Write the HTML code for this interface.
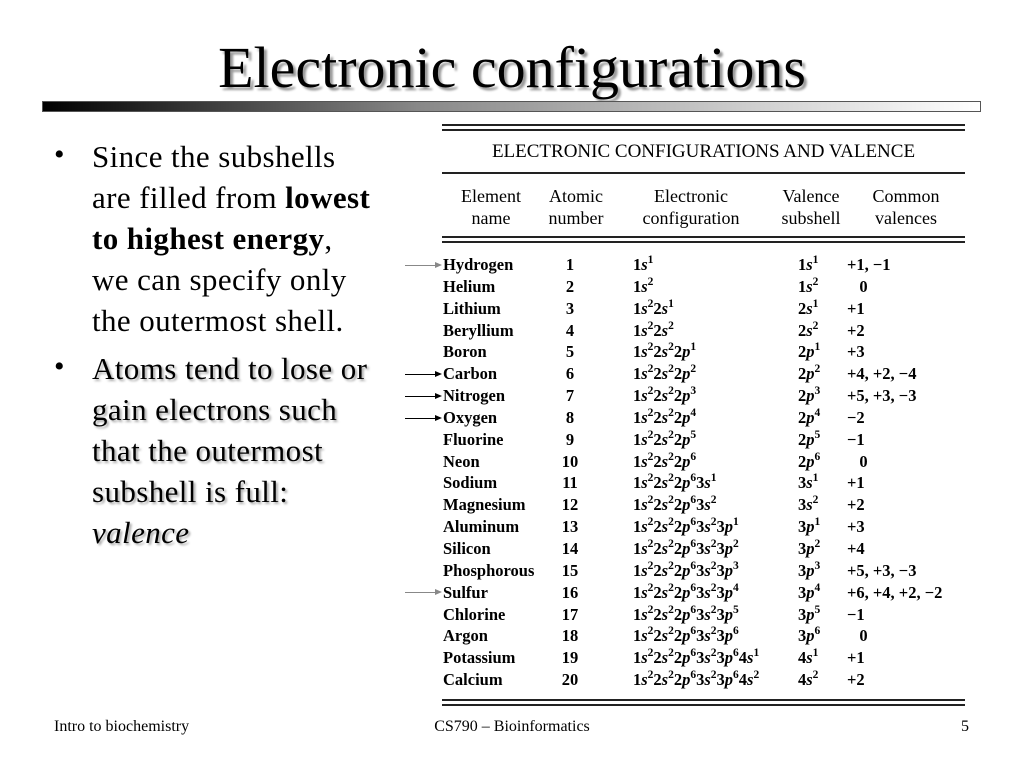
<!DOCTYPE html>
<html><head><meta charset="utf-8"><style>
body{margin:0;width:1024px;height:768px;background:#fff;position:relative;overflow:hidden;font-family:"Liberation Serif",serif;color:#000}
.a{position:absolute;white-space:nowrap}
#title{left:0;width:1024px;top:34px;text-align:center;font-size:58px;text-shadow:3px 3px 2px #999}
#bar{left:42px;top:101px;width:937px;height:9px;background:linear-gradient(to right,#000,#888 40%,#fff);border:1px solid #555}
.bul{left:92px;font-size:31px;line-height:41px;letter-spacing:0.4px}
.dot{font-size:30px}
.hl{position:absolute;left:442px;width:523px;background:#222}
.t{font-family:"Liberation Serif",serif;font-weight:bold;font-size:16.5px;line-height:21.85px}
.t sup{font-size:11.5px;vertical-align:7px;line-height:0}
.t i{font-style:italic}
.h{font-family:"Liberation Serif",serif;font-size:18px;text-align:center;line-height:22px}
.arr{position:absolute;left:405px;width:30px;height:1px}
.arr:after{content:"";position:absolute;right:-7px;top:-3px;border-left:7px solid;border-top:3.5px solid transparent;border-bottom:3.5px solid transparent;border-left-color:inherit}
.foot{top:718px;font-size:16px}
</style></head><body>
<div class="a" id="title">Electronic configurations</div>
<div class="a" id="bar"></div>

<div class="a dot" style="left:54px;top:138px">•</div>
<div class="a bul" style="top:136px">Since the subshells<br>are filled from <b>lowest</b><br><b>to highest energy</b>,<br>we can specify only<br>the outermost shell.</div>
<div class="a dot" style="left:54px;top:350px">•</div>
<div class="a bul" style="top:348px;text-shadow:2px 2px 2px #aaa">Atoms tend to lose or<br>gain electrons such<br>that the outermost<br>subshell is full:<br><i>valence</i></div>

<div class="hl" style="top:124px;height:2px"></div>
<div class="hl" style="top:129px;height:2px"></div>
<div class="a" style="left:442px;width:523px;top:141px;text-align:center;font-size:19px;font-family:'Liberation Serif',serif">ELECTRONIC CONFIGURATIONS AND VALENCE</div>
<div class="hl" style="top:172px;height:2px"></div>
<div class="a h" style="left:448px;width:86px;top:185px">Element<br>name</div>
<div class="a h" style="left:536px;width:80px;top:185px">Atomic<br>number</div>
<div class="a h" style="left:624px;width:134px;top:185px">Electronic<br>configuration</div>
<div class="a h" style="left:770px;width:82px;top:185px">Valence<br>subshell</div>
<div class="a h" style="left:860px;width:92px;top:185px">Common<br>valences</div>
<div class="hl" style="top:236px;height:2px"></div>
<div class="hl" style="top:241px;height:2px"></div>

<div class="arr" style="top:265px;background:#888;border-color:#888"></div>
<div class="arr" style="top:374px;background:#000;border-color:#000"></div>
<div class="arr" style="top:396px;background:#000;border-color:#000"></div>
<div class="arr" style="top:418px;background:#000;border-color:#000"></div>
<div class="arr" style="top:592px;background:#888;border-color:#888"></div>

<div class="a t" style="left:443px;top:254px">Hydrogen<br>Helium<br>Lithium<br>Beryllium<br>Boron<br>Carbon<br>Nitrogen<br>Oxygen<br>Fluorine<br>Neon<br>Sodium<br>Magnesium<br>Aluminum<br>Silicon<br>Phosphorous<br>Sulfur<br>Chlorine<br>Argon<br>Potassium<br>Calcium</div>
<div class="a t" style="left:548px;width:44px;text-align:center;top:254px">1<br>2<br>3<br>4<br>5<br>6<br>7<br>8<br>9<br>10<br>11<br>12<br>13<br>14<br>15<br>16<br>17<br>18<br>19<br>20</div>
<div class="a t" style="left:633px;top:254px">1<i>s</i><sup>1</sup><br>1<i>s</i><sup>2</sup><br>1<i>s</i><sup>2</sup>2<i>s</i><sup>1</sup><br>1<i>s</i><sup>2</sup>2<i>s</i><sup>2</sup><br>1<i>s</i><sup>2</sup>2<i>s</i><sup>2</sup>2<i>p</i><sup>1</sup><br>1<i>s</i><sup>2</sup>2<i>s</i><sup>2</sup>2<i>p</i><sup>2</sup><br>1<i>s</i><sup>2</sup>2<i>s</i><sup>2</sup>2<i>p</i><sup>3</sup><br>1<i>s</i><sup>2</sup>2<i>s</i><sup>2</sup>2<i>p</i><sup>4</sup><br>1<i>s</i><sup>2</sup>2<i>s</i><sup>2</sup>2<i>p</i><sup>5</sup><br>1<i>s</i><sup>2</sup>2<i>s</i><sup>2</sup>2<i>p</i><sup>6</sup><br>1<i>s</i><sup>2</sup>2<i>s</i><sup>2</sup>2<i>p</i><sup>6</sup>3<i>s</i><sup>1</sup><br>1<i>s</i><sup>2</sup>2<i>s</i><sup>2</sup>2<i>p</i><sup>6</sup>3<i>s</i><sup>2</sup><br>1<i>s</i><sup>2</sup>2<i>s</i><sup>2</sup>2<i>p</i><sup>6</sup>3<i>s</i><sup>2</sup>3<i>p</i><sup>1</sup><br>1<i>s</i><sup>2</sup>2<i>s</i><sup>2</sup>2<i>p</i><sup>6</sup>3<i>s</i><sup>2</sup>3<i>p</i><sup>2</sup><br>1<i>s</i><sup>2</sup>2<i>s</i><sup>2</sup>2<i>p</i><sup>6</sup>3<i>s</i><sup>2</sup>3<i>p</i><sup>3</sup><br>1<i>s</i><sup>2</sup>2<i>s</i><sup>2</sup>2<i>p</i><sup>6</sup>3<i>s</i><sup>2</sup>3<i>p</i><sup>4</sup><br>1<i>s</i><sup>2</sup>2<i>s</i><sup>2</sup>2<i>p</i><sup>6</sup>3<i>s</i><sup>2</sup>3<i>p</i><sup>5</sup><br>1<i>s</i><sup>2</sup>2<i>s</i><sup>2</sup>2<i>p</i><sup>6</sup>3<i>s</i><sup>2</sup>3<i>p</i><sup>6</sup><br>1<i>s</i><sup>2</sup>2<i>s</i><sup>2</sup>2<i>p</i><sup>6</sup>3<i>s</i><sup>2</sup>3<i>p</i><sup>6</sup>4<i>s</i><sup>1</sup><br>1<i>s</i><sup>2</sup>2<i>s</i><sup>2</sup>2<i>p</i><sup>6</sup>3<i>s</i><sup>2</sup>3<i>p</i><sup>6</sup>4<i>s</i><sup>2</sup></div>
<div class="a t" style="left:798px;top:254px">1<i>s</i><sup>1</sup><br>1<i>s</i><sup>2</sup><br>2<i>s</i><sup>1</sup><br>2<i>s</i><sup>2</sup><br>2<i>p</i><sup>1</sup><br>2<i>p</i><sup>2</sup><br>2<i>p</i><sup>3</sup><br>2<i>p</i><sup>4</sup><br>2<i>p</i><sup>5</sup><br>2<i>p</i><sup>6</sup><br>3<i>s</i><sup>1</sup><br>3<i>s</i><sup>2</sup><br>3<i>p</i><sup>1</sup><br>3<i>p</i><sup>2</sup><br>3<i>p</i><sup>3</sup><br>3<i>p</i><sup>4</sup><br>3<i>p</i><sup>5</sup><br>3<i>p</i><sup>6</sup><br>4<i>s</i><sup>1</sup><br>4<i>s</i><sup>2</sup></div>
<div class="a t" style="left:847px;top:254px">+1, −1<br>&nbsp;&nbsp;&nbsp;0<br>+1<br>+2<br>+3<br>+4, +2, −4<br>+5, +3, −3<br>−2<br>−1<br>&nbsp;&nbsp;&nbsp;0<br>+1<br>+2<br>+3<br>+4<br>+5, +3, −3<br>+6, +4, +2, −2<br>−1<br>&nbsp;&nbsp;&nbsp;0<br>+1<br>+2</div>
<div class="hl" style="top:699px;height:2px"></div>
<div class="hl" style="top:704px;height:2px"></div>

<div class="a foot" style="left:54px">Intro to biochemistry</div>
<div class="a foot" style="left:0;width:1024px;text-align:center">CS790 – Bioinformatics</div>
<div class="a foot" style="left:961px">5</div>
</body></html>
